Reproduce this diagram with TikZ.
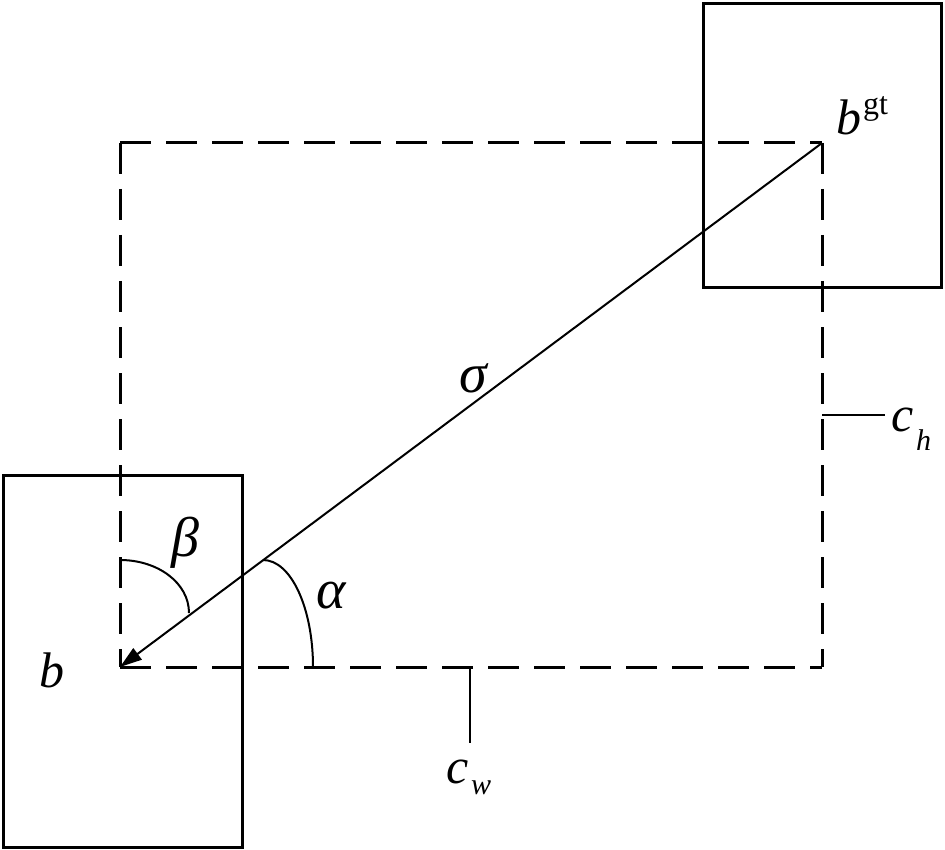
\documentclass[tikz,border=0pt]{standalone}
\usepackage{fontspec}
\setmainfont{Liberation Serif}[ItalicFont=Liberation Serif Italic]
\usetikzlibrary{arrows.meta}
\begin{document}
\begin{tikzpicture}[x=1pt,y=-1pt,
  solidbox/.style={line width=3pt},
  dashbox/.style={line width=3pt, dash pattern=on 31pt off 15pt},
  thinline/.style={line width=2pt},
  lbl/.style={inner sep=0pt, anchor=base, font=\fontsize{50}{56}\selectfont\itshape},
  glbl/.style={inner sep=0pt, anchor=base, font=\fontsize{56}{62}\selectfont\itshape},
  sublbl/.style={inner sep=0pt, anchor=base west, font=\fontsize{30}{34}\selectfont\itshape},
  suplbl/.style={inner sep=0pt, anchor=base west, font=\fontsize{32}{36}\selectfont}
]
\useasboundingbox (0,0) rectangle (945,850);
% boxes
\coordinate (bTL) at (3,475);
\coordinate (bBR) at (242,847);
\coordinate (gTL) at (703,4);
\coordinate (gBR) at (941,288);
\draw[solidbox] (bTL) rectangle (bBR);
\draw[solidbox] (gTL) rectangle (gBR);
% dashed rectangle
\coordinate (bc) at (120,667);
\coordinate (tl) at (120,143);
\coordinate (gt) at (822,143);
\coordinate (br) at (822,667);
\draw[dashbox] (tl) -- (gt);
\draw[dashbox] (tl) -- (bc);
\draw[dashbox] (gt) -- (br);
\draw[dashbox] (bc) -- (br);
% arrow
\draw[thinline, -{Triangle[length=22pt,width=14pt]}] (gt) -- (bc);
% angle arcs
\coordinate (aS) at (313,667);
\coordinate (aE) at (263,560);
\draw[thinline] (aS) .. controls (313,608) and (291,560) .. (aE);
\coordinate (bS) at (120,560);
\coordinate (bE) at (189,613);
\draw[thinline] (bS) .. controls (158,560) and (189,583) .. (bE);
% ticks
\coordinate (chA) at (822,415);
\coordinate (chB) at (885,415);
\draw[thinline] (chA) -- (chB);
\coordinate (cwA) at (470,667);
\coordinate (cwB) at (470,743);
\draw[thinline] (cwA) -- (cwB);
% labels
\node[lbl] (lb) at (52,687) {b};
\node[glbl] (lbeta) at (185,556) {β};
\node[glbl] (lalpha) at (331,608) {α};
\node[glbl] (lsigma) at (473,392) {σ};
\node[lbl, anchor=base west] (lbg) at (836,135) {b};
\node[suplbl] (lgt) at (863,115) {gt};
\node[lbl, anchor=base west] (lch) at (891,431) {c};
\node[sublbl] (lchs) at (916,450) {h};
\node[lbl, anchor=base west] (lcw) at (446,783) {c};
\node[sublbl] (lcws) at (471,794) {w};
\end{tikzpicture}
\end{document}
